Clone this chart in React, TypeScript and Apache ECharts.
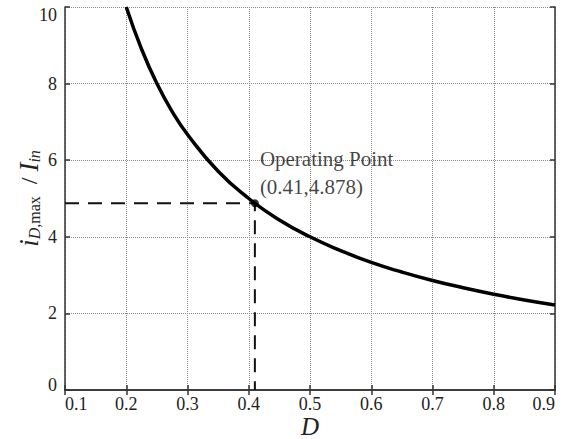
import React, { useEffect, useRef } from "react";
import * as echarts from "echarts";

const dutyValues = [0.2, 0.225, 0.25, 0.275, 0.3, 0.35, 0.4, 0.45, 0.5, 0.55, 0.6, 0.65, 0.7, 0.75, 0.8, 0.85, 0.9];
const ratioValues = [10, 8.9, 8, 7.27, 6.67, 5.71, 5, 4.44, 4, 3.64, 3.33, 3.08, 2.86, 2.67, 2.5, 2.35, 2.22];
const operatingPoint = [0.41, 4.878];
const xTicks = [0.1, 0.2, 0.3, 0.4, 0.5, 0.6, 0.7, 0.8, 0.9];
const yTicks = [0, 2, 4, 6, 8, 10];

const FONT = "'Liberation Serif', 'Times New Roman', serif";

export default function App() {
  const ref = useRef<HTMLDivElement>(null);
  useEffect(() => {
    const chart = echarts.init(ref.current!, null, { renderer: "svg" });
    const curve = dutyValues.map((d, i) => [d, ratioValues[i]]);
    const guide = [
      [xTicks[0], operatingPoint[1]],
      [operatingPoint[0], operatingPoint[1]],
      [operatingPoint[0], yTicks[0]],
    ];
    const yMin = yTicks[0];
    const yMax = yTicks[yTicks.length - 1];
    const axisLine = { show: true, lineStyle: { color: "#333", width: 1.5 } };
    const axisTick = { show: true, inside: true, length: 5, lineStyle: { color: "#333", width: 1.5 } };
    const splitLine = { show: true, lineStyle: { color: "#8a8a8a", width: 1, type: "dotted" as const } };
    chart.setOption({
      animation: false,
      backgroundColor: "#fff",
      grid: { left: 65, right: 10, top: 7, bottom: 49, containLabel: false, outerBoundsMode: "none" },
      xAxis: [
        {
          type: "value",
          min: xTicks[0],
          max: xTicks[xTicks.length - 1],
          interval: 0.1,
          position: "bottom",
          axisLine,
          axisTick,
          splitLine,
          axisLabel: {
            fontFamily: FONT,
            fontSize: 18,
            lineHeight: 14,
            color: "#222",
            margin: 7,
            alignMinLabel: "left",
            alignMaxLabel: "right",
            formatter: (v: number) => v.toFixed(1),
          },
          name: "D",
          nameLocation: "middle",
          nameGap: 25,
          nameMoveOverlap: false,
          nameTextStyle: { fontFamily: FONT, fontSize: 25, lineHeight: 22, fontStyle: "italic", color: "#222" },
        },
        {
          type: "value",
          min: xTicks[0],
          max: xTicks[xTicks.length - 1],
          interval: 0.1,
          position: "top",
          axisLine,
          axisTick,
          splitLine: { show: false },
          axisLabel: { show: false },
        },
      ],
      yAxis: [
        {
          type: "value",
          min: yMin,
          max: yMax,
          interval: 2,
          position: "left",
          axisLine,
          axisTick,
          splitLine,
          axisLabel: {
            fontFamily: FONT,
            fontSize: 18,
            color: "#222",
            margin: 8,
            formatter: (v: number) =>
              v === yMax ? `{t|${v}}` : v === yMin ? `{b|${v}}` : `{m|${v}}`,
            rich: {
              t: { fontFamily: FONT, fontSize: 18, color: "#222", padding: [15, 0, 0, 0] },
              b: { fontFamily: FONT, fontSize: 18, color: "#222", padding: [0, 0, 10, 0] },
              m: { fontFamily: FONT, fontSize: 18, color: "#222" },
            },
          },
          name: "{i|i}{sub|D,}{subr|max}{n|  / }{i|I}{sub|in}",
          nameLocation: "middle",
          nameGap: 23,
          nameRotate: 90,
          nameMoveOverlap: false,
          nameTextStyle: {
            fontFamily: FONT,
            color: "#222",
            rich: {
              i: { fontFamily: FONT, fontSize: 27, fontStyle: "italic", color: "#222" },
              n: { fontFamily: FONT, fontSize: 24, color: "#222" },
              sub: { fontFamily: FONT, fontSize: 16, fontStyle: "italic", color: "#222", verticalAlign: "bottom", padding: [10, 0, 0, 0] },
              subr: { fontFamily: FONT, fontSize: 16, color: "#222", verticalAlign: "bottom", padding: [10, 0, 0, 0] },
            },
          },
        },
        {
          type: "value",
          min: yMin,
          max: yMax,
          interval: 2,
          position: "right",
          axisLine,
          axisTick,
          splitLine: { show: false },
          axisLabel: { show: false },
        },
      ],
      series: [
        {
          type: "line",
          data: guide,
          symbol: "none",
          lineStyle: { color: "#111", width: 2, type: [14, 9] },
          z: 3,
        },
        {
          type: "line",
          data: curve,
          smooth: true,
          symbol: "none",
          lineStyle: { color: "#000", width: 3.5 },
          z: 4,
        },
        {
          type: "scatter",
          data: [operatingPoint],
          symbol: "circle",
          symbolSize: 8,
          itemStyle: { color: "#000" },
          z: 5,
          label: {
            show: true,
            position: [9, -54],
            align: "left",
            verticalAlign: "top",
            fontFamily: FONT,
            fontSize: 21,
            lineHeight: 28,
            color: "#111",
            formatter: () => `Operating Point\n(${operatingPoint[0]},${operatingPoint[1]})`,
          },
        },
      ],
    });
    return () => chart.dispose();
  }, []);
  return (
    <div
      ref={ref}
      style={{ position: "fixed", left: 0, top: 0, width: 565, height: 439, background: "#fff" }}
    />
  );
}
